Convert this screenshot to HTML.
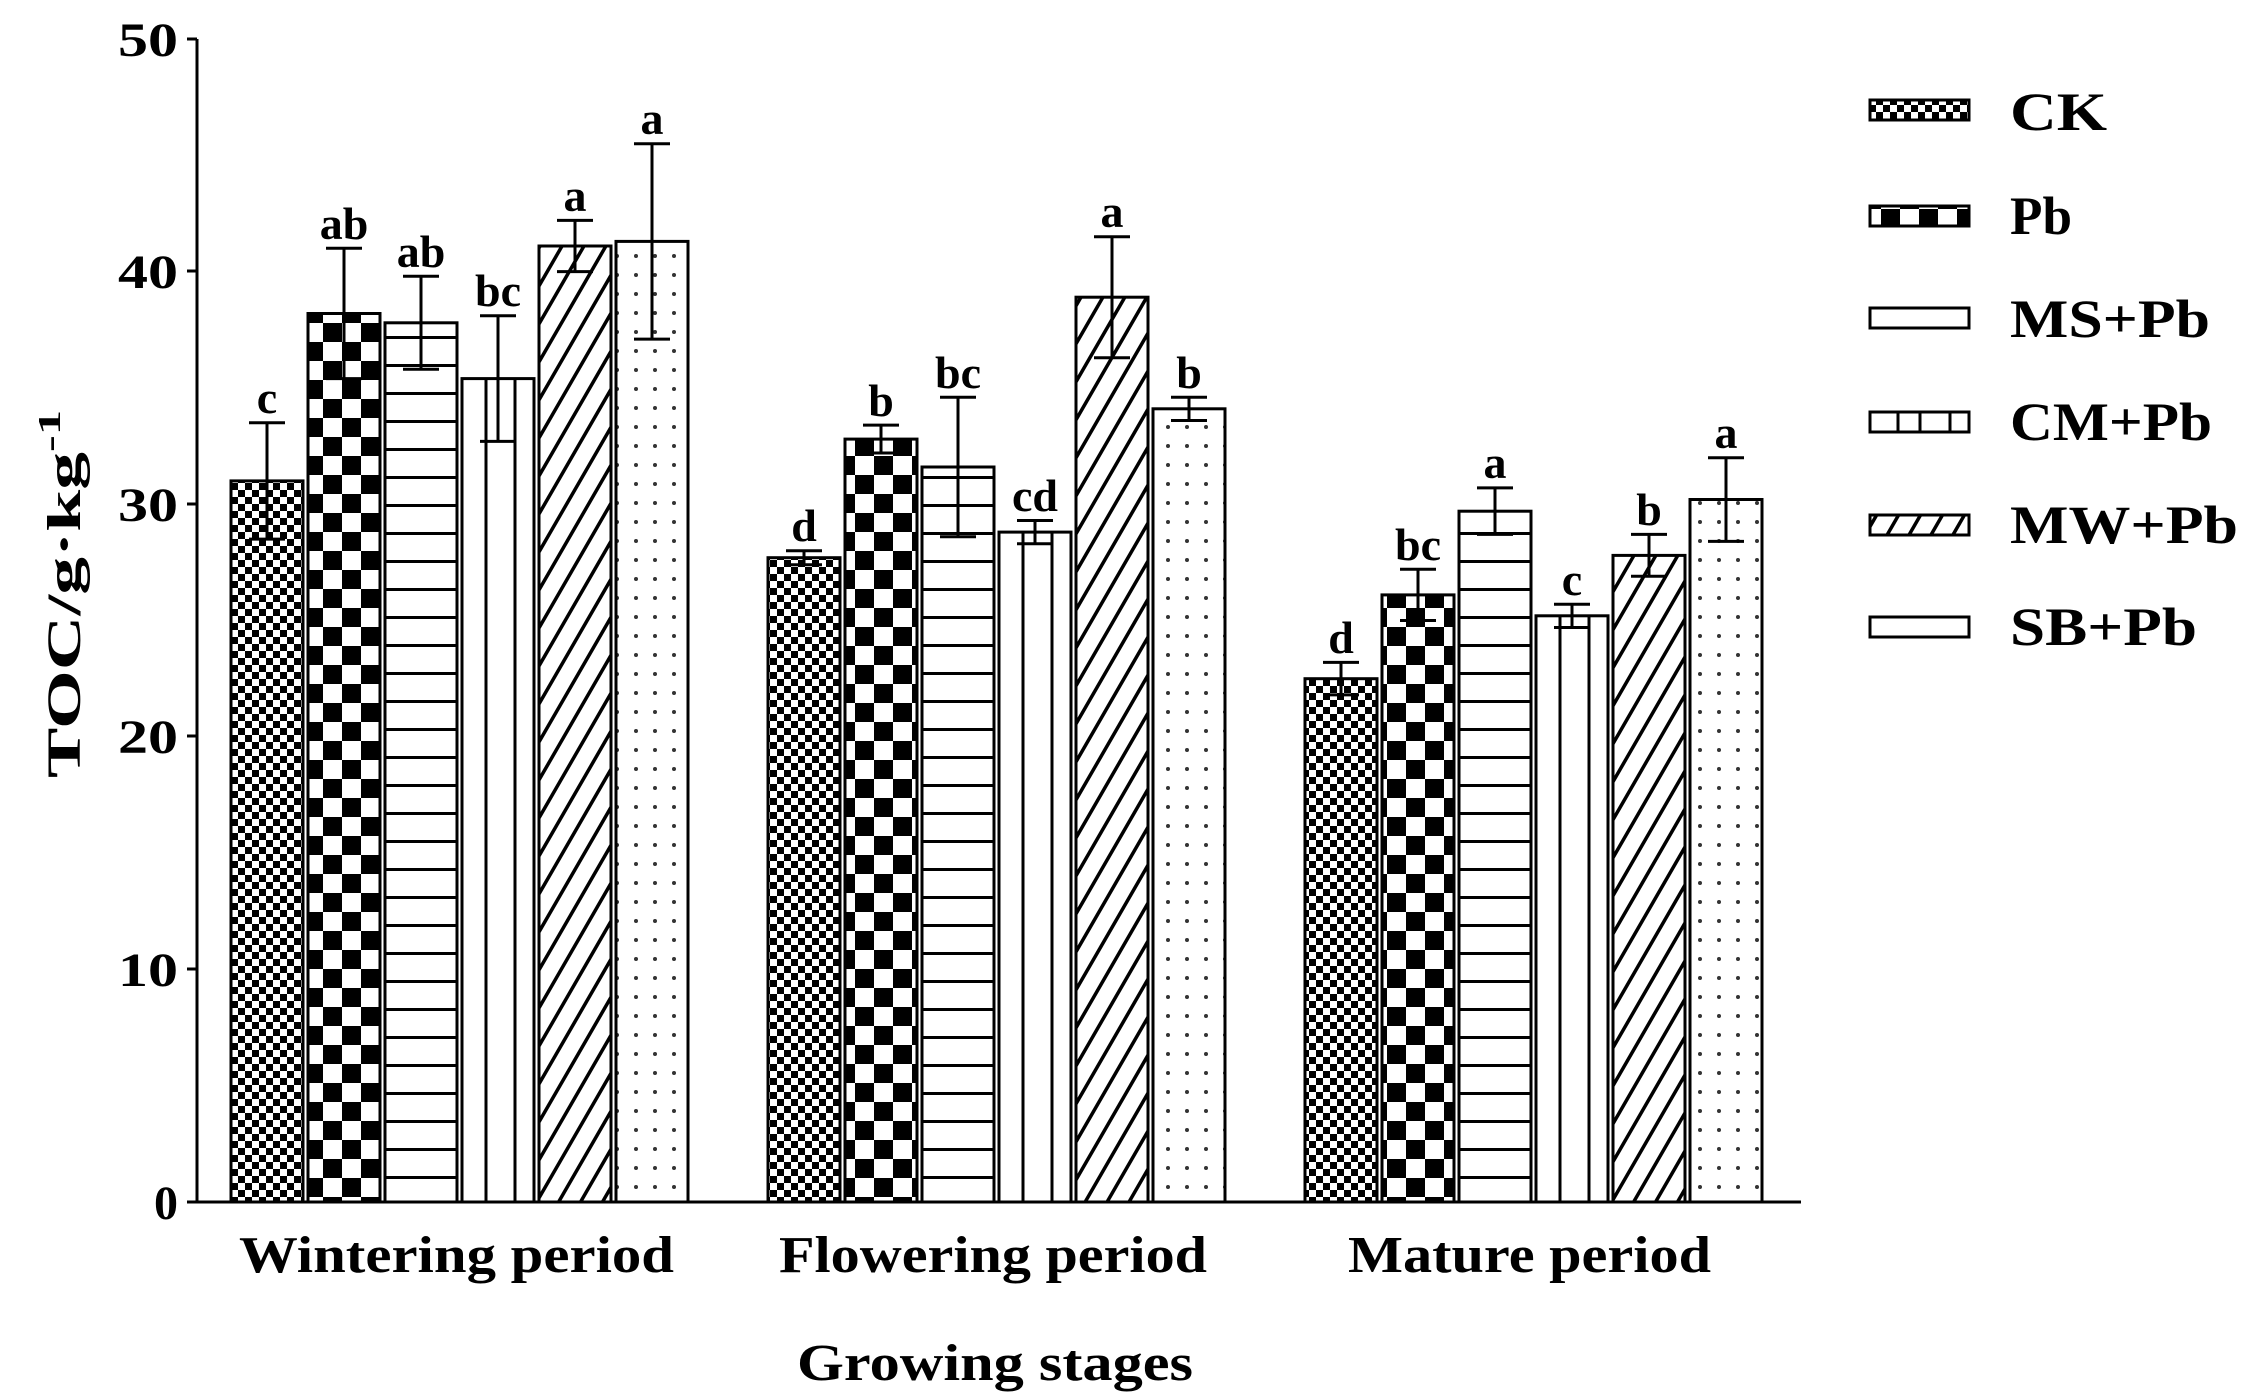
<!DOCTYPE html>
<html><head><style>body{margin:0;background:#fff}svg{display:block}</style></head><body>
<svg width="2249" height="1397" viewBox="0 0 2249 1397" xmlns="http://www.w3.org/2000/svg" font-family="Liberation Serif, serif" font-weight="bold">
<defs>
<pattern id="ck" width="14" height="14" patternUnits="userSpaceOnUse"><rect width="14" height="14" fill="#fff"/><rect width="7" height="7" fill="#000"/><rect x="7" y="7" width="7" height="7" fill="#000"/></pattern>
<pattern id="pb" width="38" height="38" patternUnits="userSpaceOnUse"><rect width="38" height="38" fill="#fff"/><rect width="19" height="19" fill="#000"/><rect x="19" y="19" width="19" height="19" fill="#000"/></pattern>
<pattern id="ms" width="20" height="28" patternUnits="userSpaceOnUse"><rect width="20" height="28" fill="#fff"/><rect y="0" width="20" height="3" fill="#000"/></pattern>
<pattern id="mw" width="19" height="19" patternUnits="userSpaceOnUse" patternTransform="rotate(30)"><rect width="19" height="19" fill="#fff"/><rect width="3.5" height="19" fill="#000"/></pattern>
<pattern id="sb" width="19" height="19" patternUnits="userSpaceOnUse"><rect width="19" height="19" fill="#fff"/><circle cx="9" cy="9" r="2" fill="#333"/></pattern>
</defs>
<g stroke="#000" stroke-width="3">
<!-- Wintering -->
<rect x="231" y="480.9" width="72" height="721.1" fill="url(#ck)"/>
<rect x="308" y="313.5" width="72" height="888.5" fill="url(#pb)"/>
<rect x="385" y="322.8" width="72" height="879.2" fill="url(#ms)"/>
<rect x="462" y="378.6" width="72" height="823.4" fill="#fff"/>
<line x1="486" y1="378.6" x2="486" y2="1202"/><line x1="515" y1="378.6" x2="515" y2="1202"/>
<rect x="539" y="246" width="72" height="956" fill="url(#mw)"/>
<rect x="616" y="241.4" width="72" height="960.6" fill="url(#sb)"/>
<!-- Flowering -->
<rect x="768" y="557.7" width="72" height="644.3" fill="url(#ck)"/>
<rect x="845" y="439.1" width="72" height="762.9" fill="url(#pb)"/>
<rect x="922" y="467" width="72" height="735" fill="url(#ms)"/>
<rect x="999" y="532.1" width="72" height="669.9" fill="#fff"/>
<line x1="1023" y1="532.1" x2="1023" y2="1202"/><line x1="1052" y1="532.1" x2="1052" y2="1202"/>
<rect x="1076" y="297.2" width="72" height="904.8" fill="url(#mw)"/>
<rect x="1153" y="408.8" width="72" height="793.2" fill="url(#sb)"/>
<!-- Mature -->
<rect x="1305" y="678.7" width="72" height="523.3" fill="url(#ck)"/>
<rect x="1382" y="594.9" width="72" height="607.1" fill="url(#pb)"/>
<rect x="1459" y="511.2" width="72" height="690.8" fill="url(#ms)"/>
<rect x="1536" y="615.8" width="72" height="586.2" fill="#fff"/>
<line x1="1560" y1="615.8" x2="1560" y2="1202"/><line x1="1589" y1="615.8" x2="1589" y2="1202"/>
<rect x="1613" y="555.4" width="72" height="646.6" fill="url(#mw)"/>
<rect x="1690" y="499.5" width="72" height="702.5" fill="url(#sb)"/>
</g>
<g stroke="#000" stroke-width="3" fill="none">
<path d="M249 422.8H285M267 422.8V539.1M249 539.1H285"/>
<path d="M326 248.3H362M344 248.3V378.6M326 378.6H362"/>
<path d="M403 276.3H439M421 276.3V369.3M403 369.3H439"/>
<path d="M480 315.8H516M498 315.8V441.4M480 441.4H516"/>
<path d="M557 220.4H593M575 220.4V271.6M557 271.6H593"/>
<path d="M634 143.7H670M652 143.7V339.1M634 339.1H670"/>
<path d="M786 550.7H822M804 550.7V564.7M786 564.7H822"/>
<path d="M863 425.1H899M881 425.1V453M863 453H899"/>
<path d="M940 397.2H976M958 397.2V536.8M940 536.8H976"/>
<path d="M1017 520.5H1053M1035 520.5V543.7M1017 543.7H1053"/>
<path d="M1094 236.7H1130M1112 236.7V357.7M1094 357.7H1130"/>
<path d="M1171 397.2H1207M1189 397.2V420.5M1171 420.5H1207"/>
<path d="M1323 662.4H1359M1341 662.4V694.9M1323 694.9H1359"/>
<path d="M1400 569.3H1436M1418 569.3V620.5M1400 620.5H1436"/>
<path d="M1477 487.9H1513M1495 487.9V534.4M1477 534.4H1513"/>
<path d="M1554 604.2H1590M1572 604.2V627.5M1554 627.5H1590"/>
<path d="M1631 534.4H1667M1649 534.4V576.3M1631 576.3H1667"/>
<path d="M1708 457.7H1744M1726 457.7V541.4M1708 541.4H1744"/>
</g>
<g font-size="46" text-anchor="middle">
<text x="267" y="413">c</text><text x="344" y="239">ab</text><text x="421" y="267">ab</text><text x="498" y="306">bc</text><text x="575" y="211">a</text><text x="652" y="134">a</text>
<text x="804" y="541">d</text><text x="881" y="416">b</text><text x="958" y="388">bc</text><text x="1035" y="511">cd</text><text x="1112" y="227">a</text><text x="1189" y="388">b</text>
<text x="1341" y="653">d</text><text x="1418" y="560">bc</text><text x="1495" y="478">a</text><text x="1572" y="595">c</text><text x="1649" y="525">b</text><text x="1726" y="448">a</text>
</g>
<!-- axes -->
<line x1="197" y1="39" x2="197" y2="1203" stroke="#000" stroke-width="3"/>
<line x1="195" y1="1202" x2="1801" y2="1202" stroke="#000" stroke-width="3"/>
<g stroke="#000" stroke-width="3">
<line x1="187" y1="39" x2="197" y2="39"/><line x1="187" y1="271" x2="197" y2="271"/><line x1="187" y1="504" x2="197" y2="504"/><line x1="187" y1="736" x2="197" y2="736"/><line x1="187" y1="969" x2="197" y2="969"/><line x1="187" y1="1202" x2="197" y2="1202"/>
</g>
<g font-size="48" text-anchor="end">
<text x="178" y="56" textLength="60" lengthAdjust="spacingAndGlyphs">50</text><text x="178" y="288" textLength="60" lengthAdjust="spacingAndGlyphs">40</text><text x="178" y="521" textLength="60" lengthAdjust="spacingAndGlyphs">30</text><text x="178" y="753" textLength="60" lengthAdjust="spacingAndGlyphs">20</text><text x="178" y="986" textLength="60" lengthAdjust="spacingAndGlyphs">10</text><text x="178" y="1219">0</text>
</g>
<text transform="translate(80,778) rotate(-90)" font-size="48" textLength="368" lengthAdjust="spacingAndGlyphs">TOC/g·kg<tspan dy="-20" font-size="32">-1</tspan></text>
<g font-size="52">
<text x="239" y="1272" textLength="435" lengthAdjust="spacingAndGlyphs">Wintering period</text>
<text x="779" y="1272" textLength="428" lengthAdjust="spacingAndGlyphs">Flowering period</text>
<text x="1348" y="1272" textLength="363" lengthAdjust="spacingAndGlyphs">Mature period</text>
<text x="797" y="1380" textLength="396" lengthAdjust="spacingAndGlyphs">Growing stages</text>
</g>
<!-- legend -->
<g stroke="#000" stroke-width="3">
<rect x="1870" y="100" width="99" height="20" fill="url(#ck)"/>
<rect x="1870" y="206" width="99" height="20" fill="url(#pb)"/>
<rect x="1870" y="308" width="99" height="20" fill="#fff"/>
<rect x="1870" y="412" width="99" height="20" fill="#fff"/>
<line x1="1898" y1="412" x2="1898" y2="432"/><line x1="1920" y1="412" x2="1920" y2="432"/><line x1="1950" y1="412" x2="1950" y2="432"/>
<rect x="1870" y="515" width="99" height="20" fill="url(#mw)"/>
<rect x="1870" y="617" width="99" height="20" fill="#fff"/>
</g>
<g font-size="54">
<text x="2010" y="130" textLength="97" lengthAdjust="spacingAndGlyphs">CK</text>
<text x="2010" y="234" textLength="62" lengthAdjust="spacingAndGlyphs">Pb</text>
<text x="2010" y="337" textLength="200" lengthAdjust="spacingAndGlyphs">MS+Pb</text>
<text x="2010" y="440" textLength="202" lengthAdjust="spacingAndGlyphs">CM+Pb</text>
<text x="2010" y="543" textLength="228" lengthAdjust="spacingAndGlyphs">MW+Pb</text>
<text x="2010" y="645" textLength="187" lengthAdjust="spacingAndGlyphs">SB+Pb</text>
</g>
</svg>
</body></html>
